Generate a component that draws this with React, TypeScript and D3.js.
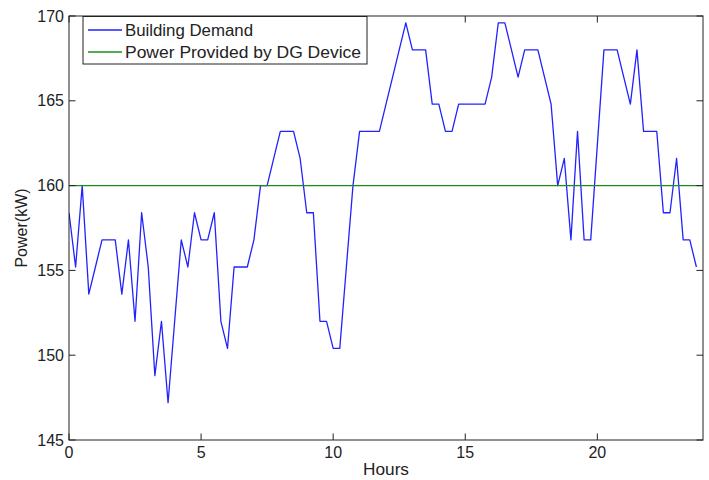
import React from "react";
import * as d3 from "d3";

const hours: number[] = Array.from({ length: 96 }, (_, i) => i * 0.25);
const demand: number[] = [
  158.4, 155.2, 160.0, 153.6, 155.2, 156.8, 156.8, 156.8,
  153.6, 156.8, 152.0, 158.4, 155.2, 148.8, 152.0, 147.2,
  152.0, 156.8, 155.2, 158.4, 156.8, 156.8, 158.4, 152.0,
  150.4, 155.2, 155.2, 155.2, 156.8, 160.0, 160.0, 161.6,
  163.2, 163.2, 163.2, 161.6, 158.4, 158.4, 152.0, 152.0,
  150.4, 150.4, 155.2, 160.0, 163.2, 163.2, 163.2, 163.2,
  164.8, 166.4, 168.0, 169.6, 168.0, 168.0, 168.0, 164.8,
  164.8, 163.2, 163.2, 164.8, 164.8, 164.8, 164.8, 164.8,
  166.4, 169.6, 169.6, 168.0, 166.4, 168.0, 168.0, 168.0,
  166.4, 164.8, 160.0, 161.6, 156.8, 163.2, 156.8, 156.8,
  162.4, 168.0, 168.0, 168.0, 166.4, 164.8, 168.0, 163.2,
  163.2, 163.2, 158.4, 158.4, 161.6, 156.8, 156.8, 155.2,
];
const dgPower: number = 160;
const xTicks: number[] = [0, 5, 10, 15, 20];
const yTicks: number[] = [145, 150, 155, 160, 165, 170];
const seriesNames: string[] = ["Building Demand", "Power Provided by DG Device"];
const seriesColors: string[] = ["#2222ff", "#1a8f1a"];

export default function App() {
  const W = 709;
  const H = 480;
  const left = 69, right = 703, top = 16, bottom = 440;
  const x = d3.scaleLinear().domain([0, 24]).range([left, right]);
  const y = d3.scaleLinear().domain([145, 170]).range([bottom, top]);
  const line = d3
    .line<number>()
    .x((_, i) => x(hours[i]))
    .y((d) => y(d));
  const tick = 6.5;
  const font = "'Liberation Sans', Arial, sans-serif";
  const axisColor = "#222";
  const legendWidths = [128, 236];
  return (
    <svg
      width={W}
      height={H}
      style={{ position: "absolute", left: 0, top: 0, background: "#fff" }}
      fontFamily={font}
    >
      <rect x={0} y={0} width={W} height={H} fill="#fff" />
      <clipPath id="plotclip">
        <rect x={left} y={top} width={right - left} height={bottom - top} />
      </clipPath>
      <g clipPath="url(#plotclip)">
        <path d={line(demand) || ""} fill="none" stroke={seriesColors[0]} strokeWidth={1.3} strokeLinejoin="round" />
        <line x1={x(0)} x2={x(24)} y1={y(dgPower)} y2={y(dgPower)} stroke={seriesColors[1]} strokeWidth={1.3} />
      </g>
      <rect x={left} y={top} width={right - left} height={bottom - top} fill="none" stroke={axisColor} strokeWidth={1} />
      {xTicks.map((t) => (
        <g key={"x" + t}>
          <line x1={x(t)} x2={x(t)} y1={bottom} y2={bottom - tick} stroke={axisColor} />
          <line x1={x(t)} x2={x(t)} y1={top} y2={top + tick} stroke={axisColor} />
          <text x={x(t)} y={458} textAnchor="middle" fontSize={16} fill="#222">
            {t}
          </text>
        </g>
      ))}
      {yTicks.map((t) => (
        <g key={"y" + t}>
          <line x1={left} x2={left + tick} y1={y(t)} y2={y(t)} stroke={axisColor} />
          <line x1={right} x2={right - tick} y1={y(t)} y2={y(t)} stroke={axisColor} />
          <text x={64} y={y(t) + 5.5} textAnchor="end" fontSize={16} fill="#222">
            {t}
          </text>
        </g>
      ))}
      <text x={(left + right) / 2} y={475} textAnchor="middle" fontSize={16} fill="#222" textLength={46} lengthAdjust="spacingAndGlyphs">
        Hours
      </text>
      <text
        transform={`translate(27,${(top + bottom) / 2}) rotate(-90)`}
        textAnchor="middle"
        fontSize={16}
        fill="#222"
      >
        Power(kW)
      </text>
      <rect x={83} y={16.5} width={284} height={47.5} fill="#fff" stroke={axisColor} strokeWidth={1} />
      {seriesNames.map((n, i) => (
        <g key={n}>
          <line x1={88} x2={122} y1={30 + i * 22} y2={30 + i * 22} stroke={seriesColors[i]} strokeWidth={1.3} />
          <text
            x={125}
            y={30 + i * 22 + 5.5}
            fontSize={16}
            fill="#222"
            textLength={legendWidths[i]}
            lengthAdjust="spacingAndGlyphs"
          >
            {n}
          </text>
        </g>
      ))}
    </svg>
  );
}
